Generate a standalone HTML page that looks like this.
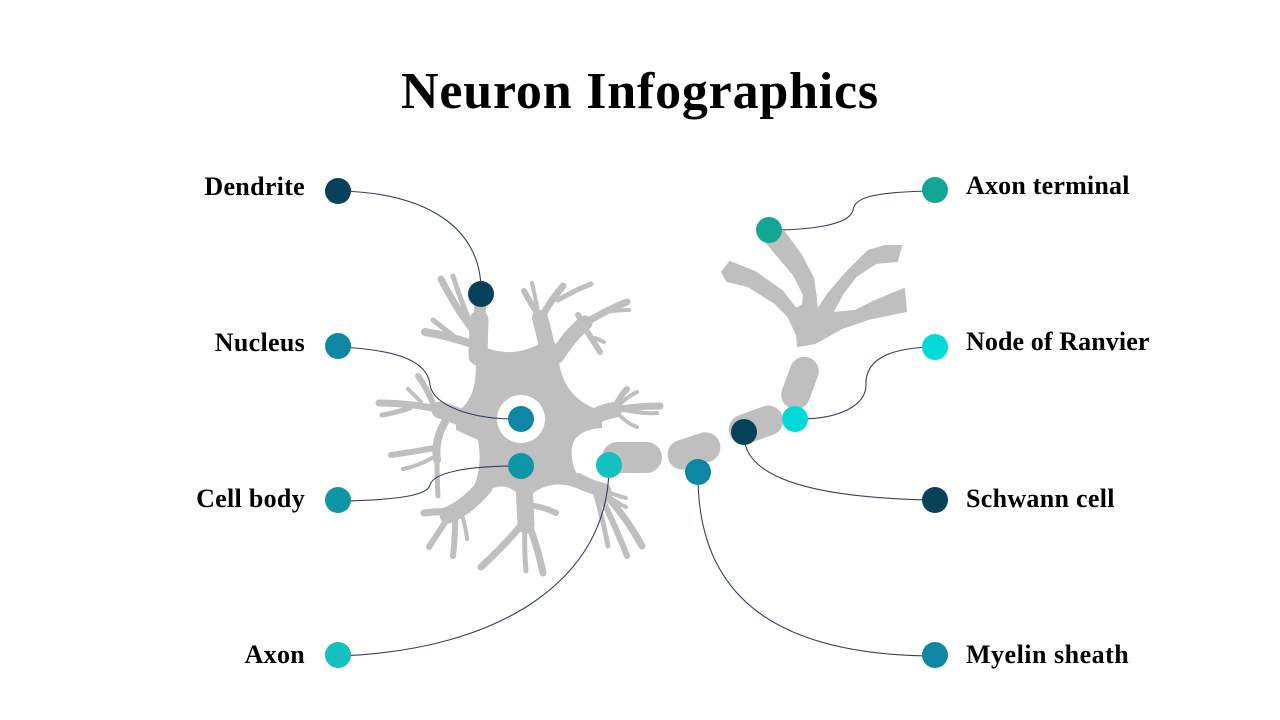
<!DOCTYPE html>
<html>
<head>
<meta charset="utf-8">
<style>
  html, body { margin: 0; padding: 0; background: #ffffff; }
  body { width: 1280px; height: 720px; overflow: hidden; }
  svg { display: block; }
  .t { font-family: "Liberation Serif", "DejaVu Serif", serif; font-weight: bold; fill: #000; }
</style>
</head>
<body>
<svg width="1280" height="720" viewBox="0 0 1280 720" xmlns="http://www.w3.org/2000/svg">
  <rect width="1280" height="720" fill="#ffffff"/>

  <!-- Title -->
  <text class="t" x="640" y="108" text-anchor="middle" font-size="52" letter-spacing="0.8">Neuron Infographics</text>

  <!-- Labels -->
  <text class="t" x="305" y="195" text-anchor="end" font-size="26" letter-spacing="0.3">Dendrite</text>
  <text class="t" x="305" y="351" text-anchor="end" font-size="26" letter-spacing="0.3">Nucleus</text>
  <text class="t" x="305" y="507" text-anchor="end" font-size="26" letter-spacing="0.3">Cell body</text>
  <text class="t" x="305" y="663" text-anchor="end" font-size="26" letter-spacing="0.3">Axon</text>

  <text class="t" x="966" y="194" font-size="26" letter-spacing="0.2">Axon terminal</text>
  <text class="t" x="966" y="350" font-size="26" letter-spacing="0.1">Node of Ranvier</text>
  <text class="t" x="966" y="507" font-size="26" letter-spacing="0.3">Schwann cell</text>
  <text class="t" x="966" y="663" font-size="26" letter-spacing="0.5">Myelin sheath</text>

  <!-- Neuron cell body -->
  <g fill="#bfbfbf">
    <path d="M474,343 Q495,353 512,352 Q532,351 551,336 L558,348 Q558,398 602,411 L602,428 Q568,430 572,458 Q574,482 597,485 L585,492 Q555,476 532,494 L518,494 Q502,478 480,496 L468,500 Q484,470 478,440 L456,430 L456,412 Q482,398 474,343 Z"/>
  </g>

  <!-- Dendrites -->
  <g fill="none" stroke="#bfbfbf" stroke-linecap="round" stroke-linejoin="round">
    <!-- top-left -->
    <path d="M478,356 L479,320" stroke-width="19"/>
    <path d="M479,324 L481,296" stroke-width="12"/>
    <path d="M476,334 Q458,312 441,279" stroke-width="7"/>
    <path d="M469,320 Q460,298 453,276" stroke-width="5"/>
    <path d="M478,346 Q450,336 425,332" stroke-width="8"/>
    <path d="M456,338 Q443,328 433,320" stroke-width="5"/>
    <!-- top-right 1 -->
    <path d="M548,352 Q544,332 540,318" stroke-width="16"/>
    <path d="M541,318 Q551,300 563,286" stroke-width="7"/>
    <path d="M558,300 Q575,290 591,284" stroke-width="5"/>
    <path d="M539,316 Q530,302 524,291" stroke-width="6"/>
    <path d="M538,312 Q535,296 532,283" stroke-width="4"/>
    <!-- top-right 2 -->
    <path d="M557,356 Q570,335 585,323" stroke-width="15"/>
    <path d="M584,324 Q606,310 627,302" stroke-width="7"/>
    <path d="M605,312 Q618,310 629,310" stroke-width="4"/>
    <path d="M584,324 Q581,320 578,315" stroke-width="6"/>
    <path d="M586,330 Q594,342 600,352" stroke-width="6"/>
    <path d="M595,338 Q600,340 604,342" stroke-width="4"/>
    <!-- right -->
    <path d="M588,421 Q600,412 614,410" stroke-width="16"/>
    <path d="M612,410 Q638,406 660,406" stroke-width="7"/>
    <path d="M614,409 Q620,396 627,389" stroke-width="6"/>
    <path d="M618,406 Q628,396 637,392" stroke-width="4"/>
    <path d="M625,410 Q642,414 657,413" stroke-width="4"/>
    <path d="M618,414 Q628,424 637,427" stroke-width="4"/>
    <!-- left -->
    <path d="M470,422 Q452,413 440,410" stroke-width="17"/>
    <path d="M442,410 Q410,403 379,403" stroke-width="7"/>
    <path d="M410,408 Q395,413 382,415" stroke-width="5"/>
    <path d="M434,406 Q428,390 418,376" stroke-width="6"/>
    <path d="M421,402 Q414,395 408,389" stroke-width="4"/>
    <path d="M446,420 Q434,440 437,460" stroke-width="8"/>
    <path d="M437,458 Q437,480 438,496" stroke-width="5"/>
    <path d="M435,448 Q412,452 391,455" stroke-width="6"/>
    <path d="M432,458 Q418,466 403,469" stroke-width="4"/>
    <!-- lower-left -->
    <path d="M484,487 Q466,508 448,515" stroke-width="17"/>
    <path d="M452,512 Q438,511 424,513" stroke-width="7"/>
    <path d="M448,518 Q438,533 429,547" stroke-width="6"/>
    <path d="M455,520 Q455,540 453,556" stroke-width="6"/>
    <path d="M462,515 Q466,528 467,539" stroke-width="4"/>
    <!-- bottom-center -->
    <path d="M524,485 L526,525" stroke-width="17"/>
    <path d="M524,522 Q505,545 481,567" stroke-width="7"/>
    <path d="M525,525 Q524,550 526,571" stroke-width="5"/>
    <path d="M528,522 Q538,548 543,573" stroke-width="7"/>
    <path d="M528,505 Q545,507 556,513" stroke-width="6"/>
    <!-- bottom-right -->
    <path d="M578,480 Q592,488 604,490" stroke-width="14"/>
    <path d="M602,490 Q615,495 626,498" stroke-width="4"/>
    <path d="M604,492 Q616,503 626,507" stroke-width="4"/>
    <path d="M603,492 Q625,515 642,546" stroke-width="7"/>
    <path d="M600,495 Q615,525 627,556" stroke-width="6"/>
    <path d="M596,495 Q603,520 608,546" stroke-width="5"/>
  </g>

  <!-- Nucleus white ring -->
  <circle cx="521" cy="419" r="24" fill="#ffffff"/>

  <!-- Axon pills (myelin) -->
  <g fill="#bfbfbf">
    <rect x="602" y="442" width="60" height="31" rx="15.5"/>
    <rect x="-27" y="-15" width="54" height="30" rx="15" transform="translate(694,451) rotate(-18)"/>
    <rect x="-28" y="-15" width="56" height="30" rx="15" transform="translate(756,425) rotate(-20)"/>
    <rect x="-27" y="-14.5" width="54" height="29" rx="14.5" transform="translate(800,383) rotate(-70)"/>
  </g>

  <!-- Axon terminal -->
  <path fill="#bfbfbf" stroke="#bfbfbf" stroke-width="2" stroke-linejoin="round"
    d="M798,346 L797,335 L788,316 L775,303 L748,286 L727,281 L722,272 L730,262 L755,272 L782,291 L796,309
       L803,305 L804,295 L794,275 L767,243 L769,230 L784,232 L801,255 L813,278 L816,298 L817,311
       L828,294 L848,271 L868,251 L885,246 L901,246 L897,261 L876,263 L856,276 L843,293 L832,313
       L855,311 L875,301 L904,289 L906,311 L868,319 L842,328 L815,343 Z"/>

  <!-- Connectors -->
  <g fill="none" stroke="#34425f" stroke-width="1.1">
    <path d="M340,191 C430,193 481,230 481,290"/>
    <path d="M340,347 C400,350 428,362 430,385 C433,405 470,419 515,419"/>
    <path d="M340,501 C400,500 428,495 430,485 C434,470 480,466 515,466"/>
    <path d="M340,656 C500,650 608,580 609,468"/>
    <path d="M933,191 C870,192 855,198 853,210 C850,225 810,230 772,230"/>
    <path d="M933,347 C880,348 865,365 866,385 C866,405 840,419 800,419"/>
    <path d="M744,436 C745,480 820,498 933,500"/>
    <path d="M698,476 C698,600 780,655 933,656"/>
  </g>

  <!-- Outer dots -->
  <circle cx="338" cy="191" r="13" fill="#08415a"/>
  <circle cx="338" cy="346" r="13" fill="#0e87a4"/>
  <circle cx="338" cy="500" r="13" fill="#0f96a4"/>
  <circle cx="338" cy="655" r="13" fill="#15c0c0"/>

  <circle cx="935" cy="190" r="13" fill="#13a596"/>
  <circle cx="935" cy="347" r="13" fill="#04d9da"/>
  <circle cx="935" cy="500" r="13" fill="#08415a"/>
  <circle cx="935" cy="655" r="13" fill="#0e87a4"/>

  <!-- Inner dots -->
  <circle cx="481" cy="294" r="13" fill="#08415a"/>
  <circle cx="521" cy="419" r="13" fill="#0e87a4"/>
  <circle cx="521" cy="466" r="13" fill="#0f96a4"/>
  <circle cx="609" cy="465" r="13" fill="#15c0c0"/>
  <circle cx="769" cy="230" r="13" fill="#13a596"/>
  <circle cx="795" cy="419" r="13" fill="#04d9da"/>
  <circle cx="744" cy="432" r="13" fill="#08415a"/>
  <circle cx="698" cy="472" r="13" fill="#0e87a4"/>
</svg>
</body>
</html>
